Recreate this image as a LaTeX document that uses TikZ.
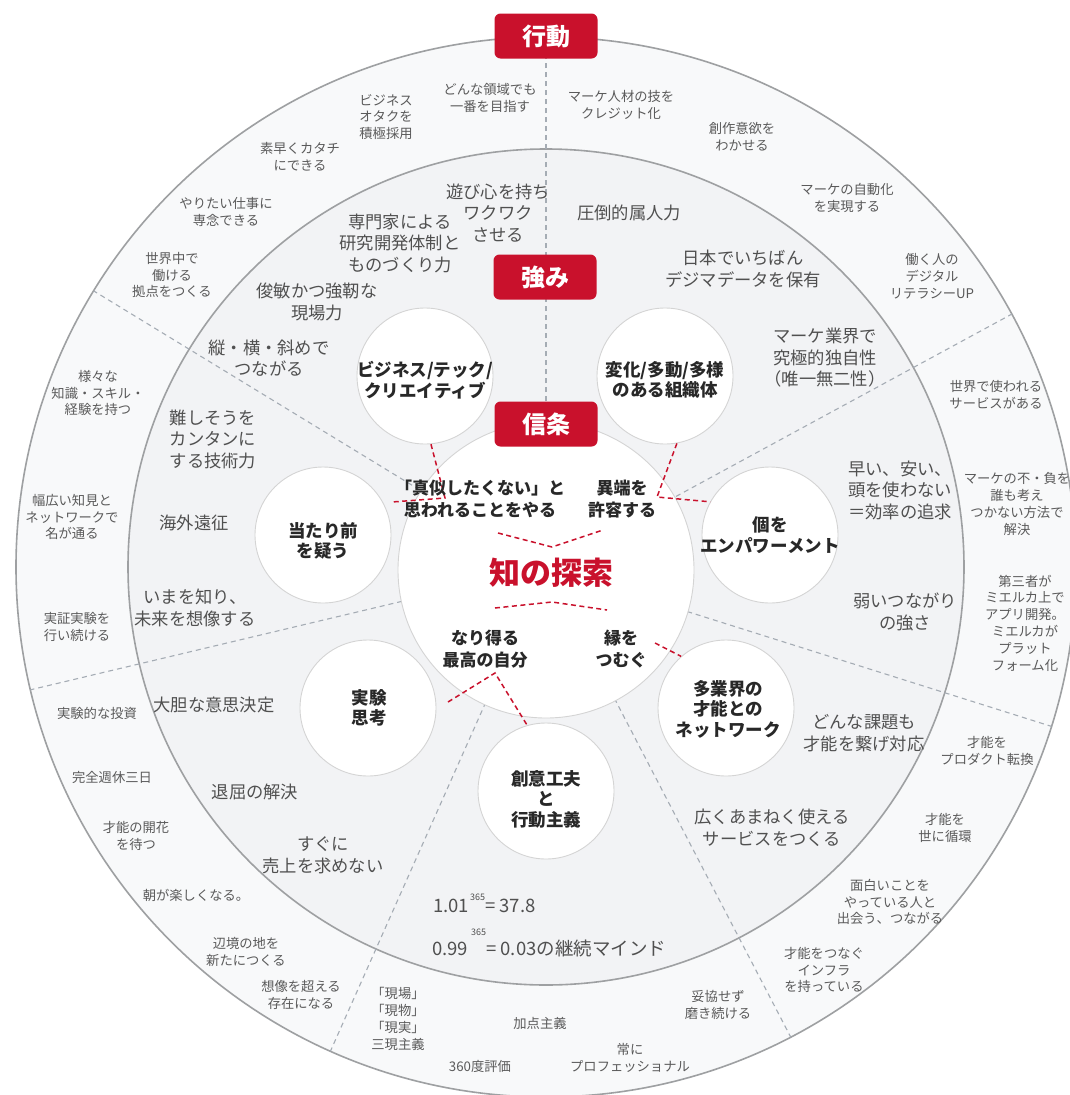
\documentclass[tikz,border=0pt]{standalone}
\usepackage{fontspec}
\setmainfont{Noto Sans CJK JP}
\usetikzlibrary{calc}
\definecolor{brandred}{RGB}{201,17,44}
\definecolor{ringline}{RGB}{158,160,162}
\definecolor{outerfill}{RGB}{248,249,250}
\definecolor{ringdark}{RGB}{233,235,238}
\definecolor{ringlight}{RGB}{242,243,245}
\definecolor{divgrey}{RGB}{165,172,180}
\definecolor{txtlight}{RGB}{90,90,90}
\definecolor{txtgrey}{RGB}{80,80,80}
\definecolor{txtdark}{RGB}{40,40,40}
\definecolor{circline}{RGB}{212,212,212}
\pgfdeclareradialshading{midring}{\pgfpoint{0bp}{0bp}}{color(0bp)=(ringlight); color(30bp)=(ringlight); color(37bp)=(ringdark); color(50bp)=(ringdark)}
\tikzset{
  outertxt/.style={text=txtlight, font=\fontsize{13.3}{16.8}\selectfont, align=center, inner sep=0pt},
  midtxt/.style={text=txtgrey, font=\fontsize{17.3}{21.5}\selectfont, align=center, inner sep=0pt},
  circtxt/.style={text=txtdark, font=\bfseries\fontsize{17.5}{20.5}\selectfont, align=center, inner sep=0pt},
  belieftxt/.style={text=txtdark, font=\bfseries\fontsize{17}{22}\selectfont, align=center, inner sep=0pt},
  smallcirc/.style={circle, fill=white, draw=circline, line width=0.9pt, minimum size=136pt, inner sep=0pt},
  tagbox/.style={fill=brandred, text=white, font=\bfseries\fontsize{24}{24}\selectfont, rounded corners=6pt, minimum width=103pt, minimum height=45pt, inner sep=0pt},
  divider/.style={draw=divgrey, dash pattern=on 5pt off 4pt, line width=1.1pt},
  reddash/.style={draw=brandred, dash pattern=on 5pt off 3.5pt, line width=1.5pt},
  formula/.style={text=txtgrey, font=\fontsize{18.5}{18.5}\selectfont, inner sep=0pt},
  supnum/.style={text=txtgrey, font=\fontsize{9}{9}\selectfont, inner sep=0pt},
}
\begin{document}
\begin{tikzpicture}[x=1pt,y=-1pt]
\useasboundingbox (0,0) rectangle (1070,1095);
\fill[white] (0,0) rectangle (1070,1095);
\coordinate (O) at (546,567);

% rings
\draw[fill=outerfill, draw=ringline, line width=1.6pt] (O) circle[radius=530pt];
\path[shading=midring] (O) circle[radius=418pt];
\draw[ringline, line width=1.6pt] (O) circle[radius=418pt];

% dividers
\foreach \a in {90,28.5,-17.5,-62.5,-114,-166.6,148.6}{
  \draw[divider] ($(O)+(\a:148pt)$) -- ($(O)+(\a:530pt)$);
}

% core circle
\node[circle, fill=white, draw=circline, line width=0.9pt, minimum size=296pt, inner sep=0pt] (core) at (546,570) {};

% small circles
\node[smallcirc] (c1) at (425,376) {};
\node[smallcirc] (c2) at (665,376) {};
\node[smallcirc] (c3) at (770,535) {};
\node[smallcirc] (c4) at (726,708) {};
\node[smallcirc] (c5) at (546,791) {};
\node[smallcirc] (c6) at (368,708) {};
\node[smallcirc] (c7) at (323,535) {};

\node[circtxt] (t1) at (425,380) {ビジネス/テック/\\クリエイティブ};
\node[circtxt] (t2) at (665,380) {変化/多動/多様\\のある組織体};
\node[circtxt] (t3) at (770,535) {個を\\エンパワーメント};
\node[circtxt] (t4) at (728,709) {多業界の\\才能との\\ネットワーク};
\node[circtxt] (t5) at (546,799) {創意工夫\\と\\行動主義};
\node[circtxt] (t6) at (369,708) {実験\\思考};
\node[circtxt] (t7) at (323,541) {当たり前\\を疑う};

% red dashed connectors
\coordinate (r1b) at (445,498);
\coordinate (r1c) at (392,502);
\draw[reddash] (c1.-85) -- (r1b) -- (r1c);
\coordinate (r2b) at (657,497);
\draw[reddash] (c2.-80) -- (r2b) -- (c3.151);
\coordinate (r3a) at (498,533);
\coordinate (r3b) at (552,547);
\coordinate (r3c) at (603,530);
\draw[reddash] (r3a) -- (r3b) -- (r3c);
\coordinate (r4a) at (495,608);
\coordinate (r4b) at (552,602);
\coordinate (r4c) at (607,610);
\draw[reddash] (r4a) -- (r4b) -- (r4c);
\coordinate (r5a) at (655,643);
\draw[reddash] (r5a) -- (c4.131);
\coordinate (r6a) at (448,702);
\coordinate (r6b) at (495,673);
\draw[reddash] (r6a) -- (r6b) -- (c5.106);

% beliefs
\node[belieftxt] (b1) at (480,499) {「真似したくない」と\\思われることをやる};
\node[belieftxt] (b2) at (622,499) {異端を\\許容する};
\node[text=brandred, font=\bfseries\fontsize{31}{31}\selectfont, inner sep=0pt] (b3) at (551,573) {知の探索};
\node[belieftxt] (b4) at (485,649) {なり得る\\最高の自分};
\node[belieftxt] (b5) at (621,649) {縁を\\つむぐ};

% tags
\node[tagbox] (tag1) at (546,36) {行動};
\node[tagbox] (tag2) at (545,277) {強み};
\node[tagbox] (tag3) at (546,424) {信条};

% middle ring texts
\node[midtxt] (m1) at (498,213) {遊び心を持ち\\ワクワク\\させる};
\node[midtxt] (m2) at (629,213) {圧倒的属人力};
\node[midtxt] (m3) at (400,243) {専門家による\\研究開発体制と\\ものづくり力};
\node[midtxt] (m4) at (743,269) {日本でいちばん\\デジマデータを保有};
\node[midtxt] (m5) at (317,302) {俊敏かつ強靭な\\現場力};
\node[midtxt] (m6) at (825,358) {マーケ業界で\\究極的独自性\\（唯一無二性）};
\node[midtxt] (m7) at (269,358) {縦・横・斜めで\\つながる};
\node[midtxt] (m8) at (213,439) {難しそうを\\カンタンに\\する技術力};
\node[midtxt] (m9) at (900,490) {早い、安い、\\頭を使わない\\＝効率の追求};
\node[midtxt] (m10) at (194,523) {海外遠征};
\node[midtxt] (m11) at (905,612) {弱いつながり\\の強さ};
\node[midtxt] (m12) at (195,608) {いまを知り、\\未来を想像する};
\node[midtxt] (m13) at (214,705) {大胆な意思決定};
\node[midtxt] (m14) at (864,733) {どんな課題も\\才能を繋げ対応};
\node[midtxt] (m15) at (255,792) {退屈の解決};
\node[midtxt] (m16) at (323,855) {すぐに\\売上を求めない};
\node[midtxt] (m17) at (772,828) {広くあまねく使える\\サービスをつくる};

% formulas
\node[formula, anchor=base west] (f1) at (433,912) {1.01};
\node[supnum, anchor=base west] (f2) at (470,900) {365};
\node[formula, anchor=base west] (f3) at (485,912) {= 37.8};
\node[supnum, anchor=base west] (f4) at (471,935) {365};
\node[formula, anchor=base west] (f5) at (432,955) {0.99};
\node[formula, anchor=base west] (f6) at (486,955) {= 0.03の継続マインド};

% outer ring texts
\node[outertxt] (o1) at (490,98) {どんな領域でも\\一番を目指す};
\node[outertxt] (o2) at (621,105) {マーケ人材の技を\\クレジット化};
\node[outertxt] (o3) at (742,137) {創作意欲を\\わかせる};
\node[outertxt] (o4) at (847,198) {マーケの自動化\\を実現する};
\node[outertxt] (o5) at (932,276) {働く人の\\デジタル\\リテラシーUP};
\node[outertxt] (o6) at (996,395) {世界で使われる\\サービスがある};
\node[outertxt] (o7) at (1017,504) {マーケの不・負を\\誰も考え\\つかない方法で\\解決};
\node[outertxt] (o8) at (1025,623) {第三者が\\ミエルカ上で\\アプリ開発。\\ミエルカが\\プラット\\フォーム化};
\node[outertxt] (o9) at (987,751) {才能を\\プロダクト転換};
\node[outertxt] (o10) at (945,828) {才能を\\世に循環};
\node[outertxt] (o11) at (890,902) {面白いことを\\やっている人と\\出会う、つながる};
\node[outertxt] (o12) at (824,970) {才能をつなぐ\\インフラ\\を持っている};
\node[outertxt] (o13) at (718,1005) {妥協せず\\磨き続ける};
\node[outertxt] (o14) at (630,1058) {常に\\プロフェッショナル};
\node[outertxt] (o15) at (540,1023) {加点主義};
\node[outertxt] (o16) at (480,1066) {360度評価};
\node[outertxt] (o17) at (398,1019) {「現場」\\「現物」\\「現実」\\三現主義};
\node[outertxt] (o18) at (301,995) {想像を超える\\存在になる};
\node[outertxt] (o19) at (246,952) {辺境の地を\\新たにつくる};
\node[outertxt] (o20) at (196,895) {朝が楽しくなる。};
\node[outertxt] (o21) at (136,836) {才能の開花\\を待つ};
\node[outertxt] (o22) at (112,777) {完全週休三日};
\node[outertxt] (o23) at (97,713) {実験的な投資};
\node[outertxt] (o24) at (77,627) {実証実験を\\行い続ける};
\node[outertxt] (o25) at (72,517) {幅広い知見と\\ネットワークで\\名が通る};
\node[outertxt] (o26) at (98,393) {様々な\\知識・スキル・\\経験を持つ};
\node[outertxt] (o27) at (172,275) {世界中で\\働ける\\拠点をつくる};
\node[outertxt] (o28) at (226,212) {やりたい仕事に\\専念できる};
\node[outertxt] (o29) at (300,157) {素早くカタチ\\にできる};
\node[outertxt] (o30) at (386,117) {ビジネス\\オタクを\\積極採用};
\end{tikzpicture}
\end{document}
